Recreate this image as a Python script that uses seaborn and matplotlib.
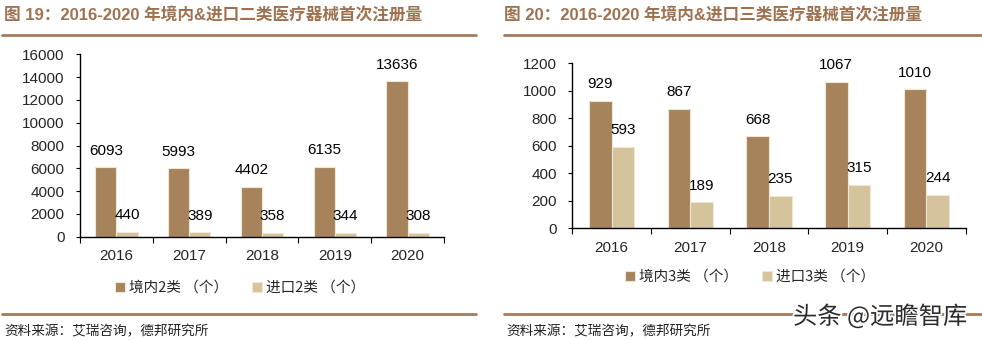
import matplotlib
matplotlib.use("Agg")
import matplotlib.pyplot as plt
import matplotlib.patheffects as pe
import seaborn as sns
import pandas as pd
import numpy as np
from matplotlib.lines import Line2D

sns.set_theme(style="white")
plt.rcParams['font.family'] = ['Liberation Sans', 'Noto Sans CJK SC', 'DejaVu Sans']

years = ["2016", "2017", "2018", "2019", "2020"]
dom2 = [6093, 5993, 4402, 6135, 13636]
imp2 = [440, 389, 358, 344, 308]
dom3 = [929, 867, 668, 1067, 1010]
imp3 = [593, 189, 235, 315, 244]
series2 = ["境内2类 （个）", "进口2类 （个）"]
series3 = ["境内3类 （个）", "进口3类 （个）"]
title_l = "图 19：2016-2020 年境内&进口二类医疗器械首次注册量"
title_r = "图 20：2016-2020 年境内&进口三类医疗器械首次注册量"
source = "资料来源：艾瑞咨询，德邦研究所"
yticks_l = [0, 2000, 4000, 6000, 8000, 10000, 12000, 14000, 16000]
yticks_r = [0, 200, 400, 600, 800, 1000, 1200]

C_DOM = "#A6835B"
C_IMP = "#D4C39B"
C_LINE = "#A57C5B"
C_TITLE = "#9E7250"

W, H = 982, 340
fig = plt.figure(figsize=(W / 100, H / 100), dpi=100)


def px(x0, y0, x1, y1):
    # pixel box (top-left origin) -> figure fraction
    return [x0 / W, 1 - y1 / H, (x1 - x0) / W, (y1 - y0) / H]


def draw(ax, dom, imp, names, yticks, ymax, leg_xy):
    df = pd.DataFrame({
        "year": years * 2,
        "value": dom + imp,
        "series": [names[0]] * len(years) + [names[1]] * len(years),
    })
    sns.barplot(data=df, x="year", y="value", hue="series", ax=ax,
                palette=[C_DOM, C_IMP], width=0.58, dodge=True,
                edgecolor="#EFE6D6", linewidth=0.8, saturation=1)
    ax.set_ylim(0, ymax)
    ax.set_xlim(-0.5, len(years) - 0.5)
    ax.set_yticks(yticks)
    ax.set_xlabel("")
    ax.set_ylabel("")
    for s in ["top", "right"]:
        ax.spines[s].set_visible(False)
    for s in ["left", "bottom"]:
        ax.spines[s].set_color("black")
        ax.spines[s].set_linewidth(1.0)
    ax.tick_params(axis="y", which="major", direction="out", length=3, width=0.8,
                   color="black", labelsize=11, pad=8, left=True)
    ax.tick_params(axis="x", which="major", length=0, labelsize=11, pad=9)
    ax.set_xticks(np.arange(-0.5, len(years), 1.0), minor=True)
    ax.tick_params(axis="x", which="minor", direction="out", length=4, width=0.8,
                   color="black", bottom=True)
    for cont in ax.containers:
        for bar in cont:
            h = bar.get_height()
            ax.annotate(f"{int(round(h))}", (bar.get_x() + bar.get_width() / 2, h),
                        xytext=(0, 7), textcoords="offset points",
                        ha="center", va="bottom", fontsize=11, color="black")
    handles, labels = ax.get_legend_handles_labels()
    if ax.get_legend() is not None:
        ax.get_legend().remove()
    fig.legend(handles, labels, loc="center",
               bbox_to_anchor=(leg_xy[0] / W, 1 - leg_xy[1] / H),
               ncol=2, frameon=False, handlelength=0.7,
               handleheight=0.7, handletextpad=0.3, columnspacing=1.6,
               prop={"family": ["Noto Sans CJK SC"], "size": 10.5})


axl = fig.add_axes(px(80, 54.3, 444, 236.7))
draw(axl, dom2, imp2, series2, yticks_l, 16000, (240, 288))
axr = fig.add_axes(px(572.3, 63.3, 965.7, 228.3))
draw(axr, dom3, imp3, series3, yticks_r, 1200, (750, 277))

# titles
for x, t in [(4, title_l), (504, title_r)]:
    fig.text(x / W, 1 - 16 / H, t, ha="left", va="center", fontsize=12,
             fontweight="bold", color=C_TITLE,
             family=["Liberation Sans", "Noto Sans CJK SC"])
# decorative lines
for (x0, x1) in [(2, 476), (504, 981)]:
    for y in (35, 314):
        fig.add_artist(Line2D([x0 / W, x1 / W], [1 - y / H, 1 - y / H],
                              color=C_LINE, linewidth=2.0))
# source
for x in (4, 506):
    fig.text(x / W, 1 - 331 / H, source, ha="left", va="center", fontsize=9.8,
             color="#222222", family=["Noto Sans CJK SC"])
# watermark
fig.text(880 / W, 1 - 317 / H, "头条 @远瞻智库", ha="center", va="center",
         fontsize=17.5, color="#2b2b2b", family=["Noto Sans CJK SC"],
         path_effects=[pe.withStroke(linewidth=2.5, foreground="white")])

fig.savefig("out.png", dpi=100)
